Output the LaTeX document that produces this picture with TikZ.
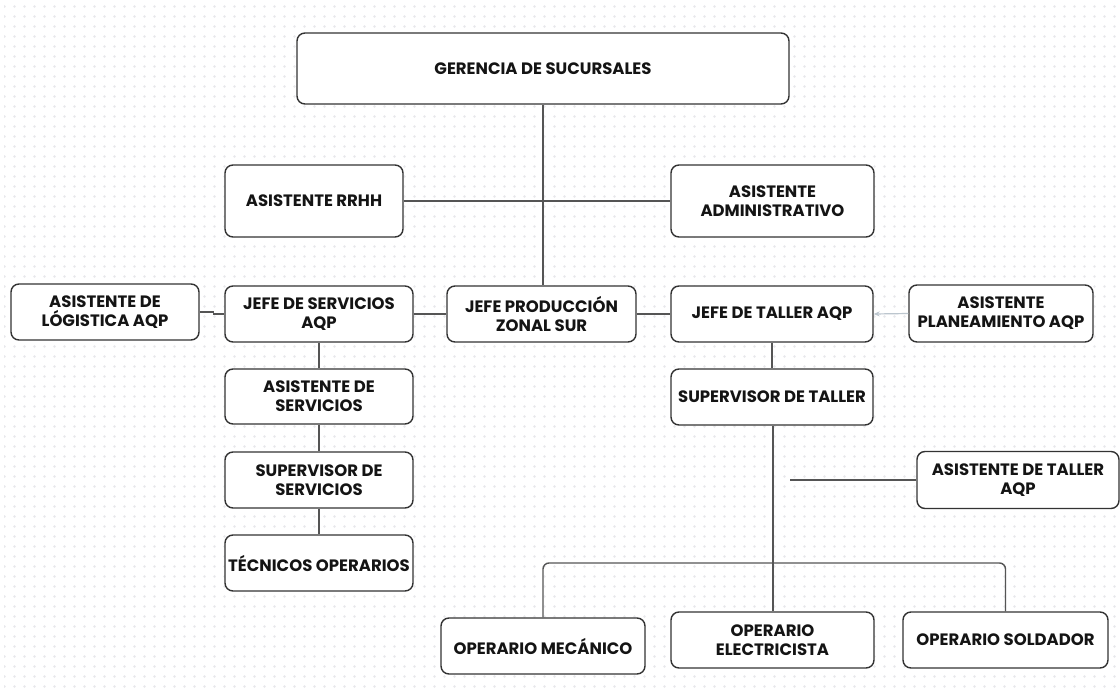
\documentclass[tikz,border=0pt]{standalone}
\usepackage{fontspec}
\setmainfont{Poppins}
\usetikzlibrary{arrows.meta,patterns}
\definecolor{boxline}{HTML}{333333}
\definecolor{linkline}{HTML}{555555}
\definecolor{softlink}{HTML}{BCC6CE}
\definecolor{dotgrey}{HTML}{E8E8EC}
% dotted grid paper, one dot every 10pt
\pgfdeclarepatternformonly{griddots}{\pgfpointorigin}{\pgfpoint{10pt}{10pt}}{\pgfpoint{10pt}{10pt}}{%
  \pgfpathcircle{\pgfpoint{5pt}{5pt}}{1.5pt}\pgfusepath{fill}}
\tikzset{
  orgbox/.style={draw=boxline, line width=1.4pt, rounded corners=8pt, fill=white,
    align=center, inner sep=2pt, font=\bfseries\fontsize{16.5}{19}\selectfont,
    text=black!92},
  link/.style={draw=linkline, line width=1.4pt},
  softarrow/.style={draw=softlink, line width=1.2pt, -{Stealth[length=6pt,width=5pt]}}
}
\begin{document}
\begin{tikzpicture}[x=1pt,y=-1pt]
  \useasboundingbox (0,0) rectangle (1120,691);
  \fill[white] (0,0) rectangle (1120,691);
  \fill[pattern=griddots, pattern color=dotgrey] (4,4) rectangle (1120,691);

  % boxes
  \node[orgbox, minimum width=492pt, minimum height=71pt] (ger) at (543,68.5) {GERENCIA DE SUCURSALES};
  \node[orgbox, minimum width=178pt, minimum height=72pt] (rrhh) at (314,201) {ASISTENTE RRHH};
  \node[orgbox, minimum width=203pt, minimum height=72pt] (adm) at (772.5,201) {ASISTENTE\\ADMINISTRATIVO};
  \node[orgbox, minimum width=188pt, minimum height=56pt] (log) at (105,312) {ASISTENTE DE\\LÓGISTICA AQP};
  \node[orgbox, minimum width=188pt, minimum height=56pt] (jserv) at (319,314) {JEFE DE SERVICIOS\\AQP};
  \node[orgbox, minimum width=189pt, minimum height=56pt] (jprod) at (541.5,314) {JEFE PRODUCCIÓN\\ZONAL SUR};
  \node[orgbox, minimum width=202pt, minimum height=56pt] (jtal) at (772,314) {JEFE DE TALLER AQP};
  \node[orgbox, minimum width=184pt, minimum height=57pt] (plan) at (1001,313.5) {ASISTENTE\\PLANEAMIENTO AQP};
  \node[orgbox, minimum width=188pt, minimum height=55pt] (aserv) at (319,396.5) {ASISTENTE DE\\SERVICIOS};
  \node[orgbox, minimum width=188pt, minimum height=56pt] (sserv) at (319,480) {SUPERVISOR DE\\SERVICIOS};
  \node[orgbox, minimum width=188pt, minimum height=56pt] (tec) at (319,563) {TÉCNICOS OPERARIOS};
  \node[orgbox, minimum width=202pt, minimum height=56pt] (stal) at (772,397) {SUPERVISOR DE TALLER};
  \node[orgbox, minimum width=202pt, minimum height=57pt] (atal) at (1018,480) {ASISTENTE DE TALLER\\AQP};
  \node[orgbox, minimum width=204pt, minimum height=56pt] (mec) at (543,646) {OPERARIO MECÁNICO};
  \node[orgbox, minimum width=203pt, minimum height=56pt] (ele) at (772.5,640) {OPERARIO\\ELECTRICISTA};
  \node[orgbox, minimum width=205pt, minimum height=56pt] (sol) at (1005.5,640) {OPERARIO SOLDADOR};

  % free ends and junctions
  \coordinate (bus) at (773,563);
  \coordinate (atalend) at (790,480);

  % connectors
  \draw[link] (ger.south) -- (ger.south |- jprod.north);
  \draw[link] (rrhh.east) -- (adm.west);
  \draw[link] (log.east) -- ++(14,0) |- (jserv.west);
  \draw[link] (jserv.east) -- (jprod.west);
  \draw[link] (jprod.east) -- (jtal.west);
  \draw[softarrow] (plan.west) -- (jtal.east);
  \draw[link] (jserv.south) -- (aserv.north);
  \draw[link] (aserv.south) -- (sserv.north);
  \draw[link] (sserv.south) -- (tec.north);
  \draw[link] (jtal.south) -- (stal.north);
  \draw[link] (stal.south -| bus) -- (bus) -- (ele.north -| bus);
  \draw[link, rounded corners=6pt] (mec.north) |- (bus) -| (sol.north);
  \draw[link] (atal.west) -- (atalend);
\end{tikzpicture}
\end{document}
